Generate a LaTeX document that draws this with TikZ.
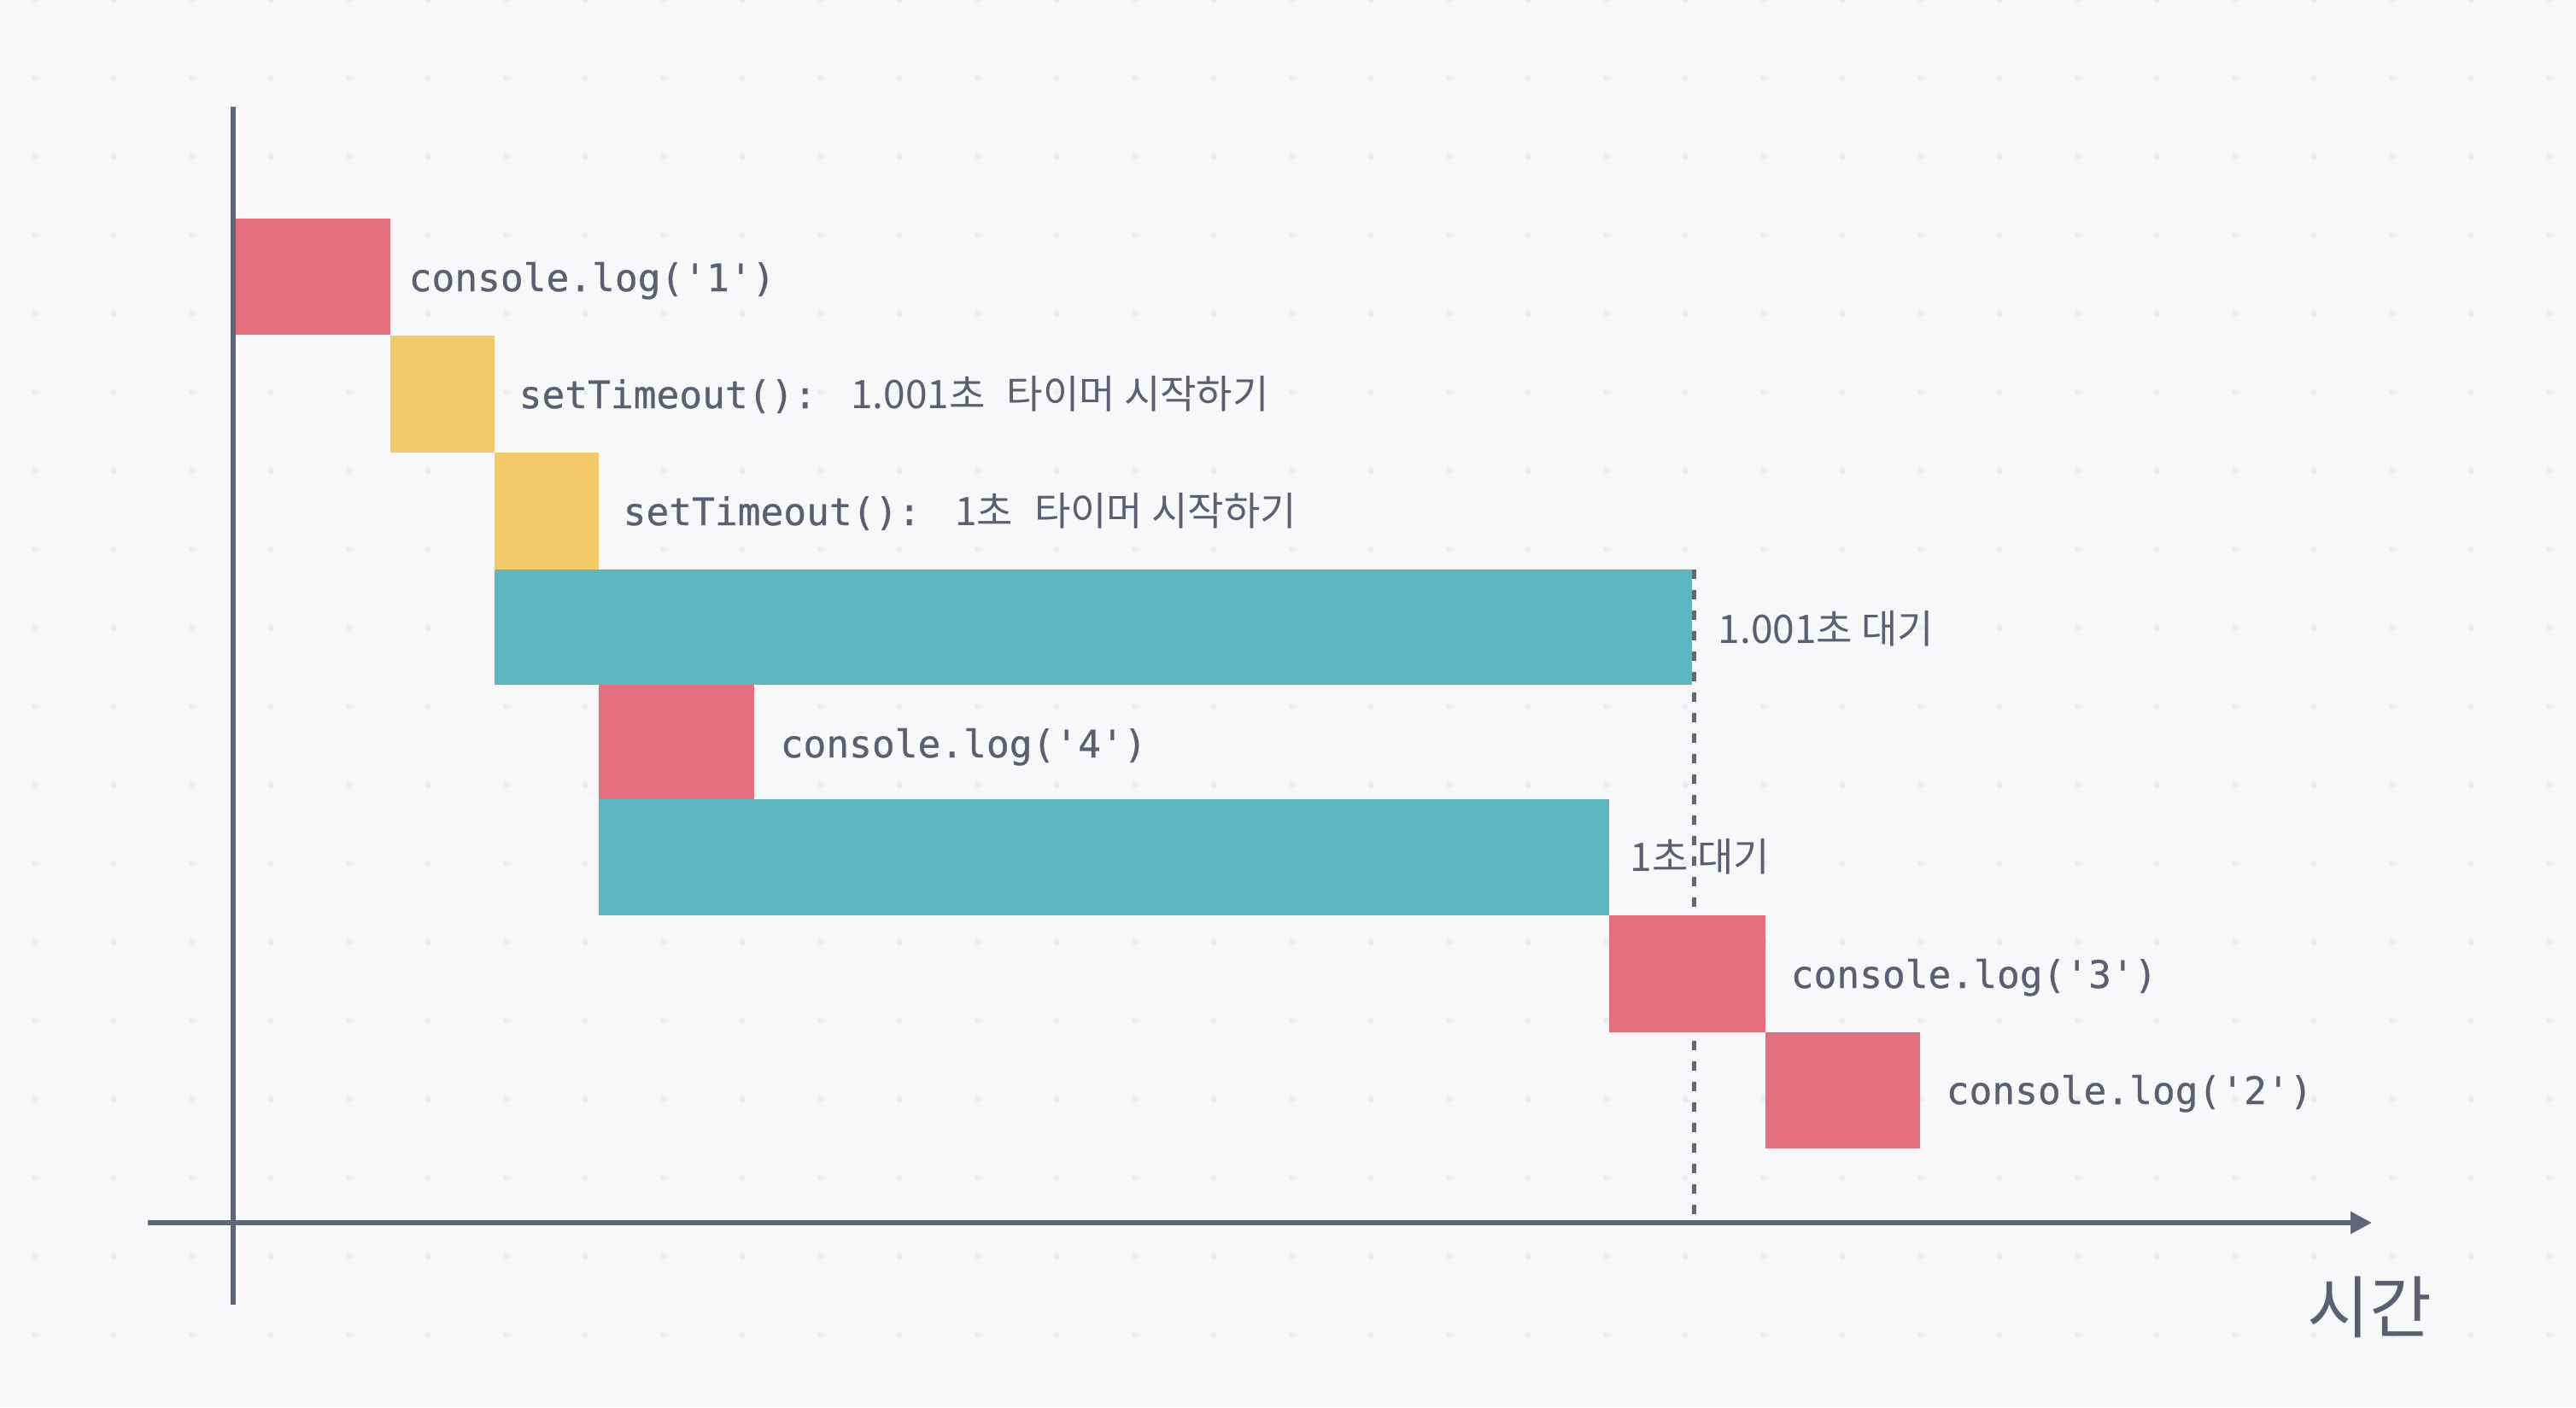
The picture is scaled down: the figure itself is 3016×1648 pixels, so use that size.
\documentclass[tikz,border=0pt]{standalone}
\usepackage{fontspec}
\newfontfamily\kr{Noto Sans CJK KR}
\newfontfamily\mono[FakeBold=0.6]{DejaVu Sans Mono}
\usetikzlibrary{arrows.meta}
\definecolor{bgc}{HTML}{F8F8FB}
\definecolor{dotc}{HTML}{ECEDF1}
\definecolor{redc}{HTML}{E4707F}
\definecolor{yelc}{HTML}{F4CA68}
\definecolor{teal}{HTML}{5EB6C0}
\definecolor{axisc}{HTML}{5F6677}
\definecolor{textc}{HTML}{5A6071}
\tikzset{
  codelbl/.style={anchor=base west, inner sep=0pt, text=textc, font=\mono\fontsize{12.66pt}{15pt}\selectfont},
  krlbl/.style={anchor=base west, inner sep=0pt, text=textc, font=\kr\fontsize{13.1pt}{16pt}\selectfont},
  axisline/.style={draw=axisc, line width=0.057cm},
  dashline/.style={draw=axisc, line width=0.05cm, dash pattern=on 0.11cm off 0.13cm},
}
\begin{document}
\begin{tikzpicture}[x=0.01cm,y=-0.01cm]
\fill[bgc] (0,0) rectangle (3016,1648);
\useasboundingbox (0,0) rectangle (3016,1648);
% dotted background
\foreach \i in {0,...,32}{
  \foreach \j in {0,...,17}{
    \fill[dotc] ({41+92*\i},{-1+92*\j}) circle[radius=0.04cm];
  }
}
% dashed marker (behind the bars)
\coordinate (dtop) at (1983,667);
\coordinate (dbot) at (1983,1432);
\draw[dashline] (dtop) -- (dbot);
% bars
\fill[redc] (273,256) rectangle (457,392);
\fill[yelc] (457,393) rectangle (579,530);
\fill[yelc] (579,530) rectangle (701,667);
\fill[teal] (579,667) rectangle (1981,802);
\fill[redc] (701,802) rectangle (883,936);
\fill[teal] (701,936) rectangle (1884,1072);
\fill[redc] (1884,1072) rectangle (2067,1209);
\fill[redc] (2067,1209) rectangle (2248,1345);
% axes
\coordinate (ytop) at (273,125);
\coordinate (ybot) at (273,1528);
\coordinate (xleft) at (173,1432);
\coordinate (xright) at (2777,1432);
\draw[axisline] (ytop) -- (ybot);
\draw[axisline, -{Triangle[length=0.25cm,width=0.25cm]}] (xleft) -- (xright);
% labels
\node[codelbl] (l1) at (478,341) {console.log('1')};
\node[codelbl] (l2) at (607,478) {setTimeout():\hspace{0.4cm}{\kr\fontsize{13.1pt}{16pt}\selectfont 1.001초\hspace{0.25cm}타이머 시작하기}};
\node[codelbl] (l3) at (729,615) {setTimeout():\hspace{0.4cm}{\kr\fontsize{13.1pt}{16pt}\selectfont 1초\hspace{0.25cm}타이머 시작하기}};
\node[krlbl] (l4) at (2011,753) {1.001초 대기};
\node[codelbl] (l5) at (913,887) {console.log('4')};
\node[krlbl] (l6) at (1908,1020) {1초 대기};
\node[codelbl] (l7) at (2096,1157) {console.log('3')};
\node[codelbl] (l8) at (2278,1293) {console.log('2')};
\node[anchor=center, inner sep=0pt, text=textc, font=\kr\fontsize{22.5pt}{26pt}\selectfont] (tlbl) at (2774,1531) {시간};
\end{tikzpicture}
\end{document}
